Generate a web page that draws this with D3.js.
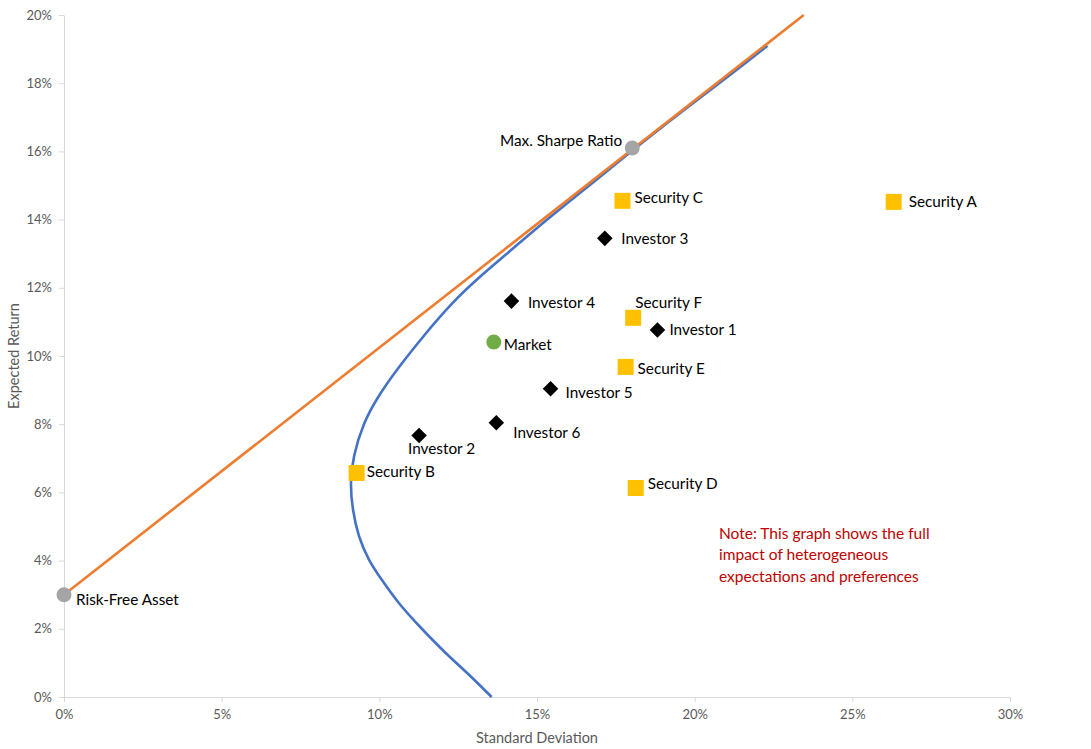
<!DOCTYPE html>
<html>
<head>
<meta charset="utf-8">
<script src="https://cdn.jsdelivr.net/npm/d3@7"></script>
<style>
  html, body { margin: 0; padding: 0; background: #fff; }
  svg { display: block; }
  text { font-family: Lato, "Open Sans", "Liberation Sans", sans-serif; }
</style>
</head>
<body>
<svg id="chart" width="1091" height="749"></svg>
<script>
// ---- Data (percent units) ----
const xTicks = [0, 5, 10, 15, 20, 25, 30];
const yTicks = [0, 2, 4, 6, 8, 10, 12, 14, 16, 18, 20];

// Efficient frontier
const frontierSd  = [13.56, 12.80, 12.10, 11.28, 10.60, 10.07, 9.65, 9.33, 9.15, 9.07, 9.17, 9.49, 9.96, 10.55, 11.39, 12.30, 13.15, 14.10, 14.95, 16.00, 16.79, 17.80, 19.52, 21.30, 22.31];
const frontierRet = [0.00, 0.70, 1.28, 2.06, 2.75, 3.44, 4.02, 4.71, 5.49, 6.28, 7.06, 8.04, 8.82, 9.60, 10.58, 11.56, 12.30, 13.04, 13.72, 14.51, 15.10, 15.86, 17.12, 18.36, 19.10];

// Capital market line endpoints
const cmlSd  = [0, 23.46];
const cmlRet = [3.0, 20.0];

// Points
const pointNames = ["Risk-Free Asset", "Max. Sharpe Ratio", "Market",
  "Security A", "Security B", "Security C", "Security D", "Security E", "Security F",
  "Investor 1", "Investor 2", "Investor 3", "Investor 4", "Investor 5", "Investor 6"];
const pointTypes = ["rf", "sharpe", "market",
  "security", "security", "security", "security", "security", "security",
  "investor", "investor", "investor", "investor", "investor", "investor"];
const pointSd  = [0.00, 18.02, 13.63, 26.31, 9.28, 17.71, 18.13, 17.81, 18.05, 18.82, 11.26, 17.15, 14.19, 15.43, 13.71];
const pointRet = [3.00, 16.10, 10.41, 14.52, 6.57, 14.55, 6.13, 9.68, 11.12, 10.76, 7.67, 13.45, 11.61, 9.04, 8.04];

const noteLines = ["Note: This graph shows the full", "impact of heterogeneous", "expectations and preferences"];

// ---- Layout (label offsets in px, relative to marker centre) ----
const labelDx = [12, -10, 10, 15, 10, 12, 12, 12, 2, 12, -11, 16.5, 16.5, 15, 17];
const labelDy = [10, -2, 8, 5, 4, 2, 1, 7, -10, 5, 19, 6, 6.5, 9, 15];
const labelAnchor = ["start", "end", "start", "start", "start", "start", "start", "start", "start",
  "start", "start", "start", "start", "start", "start"];

const svg = d3.select("#chart");
const x = d3.scaleLinear().domain([0, 30]).range([64, 1010]);
const y = d3.scaleLinear().domain([0, 20]).range([697, 15]);

const axisColor = "#D9D9D9";
const textColor = "#595959";

// Axes
const gx = svg.append("g").attr("transform", `translate(0,${y(0)})`)
  .call(d3.axisBottom(x).tickValues(xTicks).tickFormat(d => d + "%").tickSize(5).tickSizeOuter(0).tickPadding(8));
const gy = svg.append("g").attr("transform", `translate(${x(0)},0)`)
  .call(d3.axisLeft(y).tickValues(yTicks).tickFormat(d => d + "%").tickSize(5).tickSizeOuter(0).tickPadding(7));
[gx, gy].forEach(g => {
  g.select(".domain").attr("stroke", axisColor);
  g.selectAll(".tick line").attr("stroke", axisColor);
  g.selectAll(".tick text").attr("fill", textColor).style("font-size", "13px")
    .style("font-family", "Lato, 'Open Sans', sans-serif");
});

// Axis titles
svg.append("text").attr("x", (x(0) + x(30)) / 2).attr("y", 743)
  .attr("text-anchor", "middle").attr("fill", textColor).style("font-size", "14.5px")
  .text("Standard Deviation");
svg.append("text").attr("transform", `translate(19,${(y(0) + y(20)) / 2}) rotate(-90)`)
  .attr("text-anchor", "middle").attr("fill", textColor).style("font-size", "14.5px")
  .text("Expected Return");

// Efficient frontier
const frontier = frontierSd.map((s, i) => [s, frontierRet[i]]);
svg.append("path").datum(frontier)
  .attr("fill", "none").attr("stroke", "#4472C4").attr("stroke-width", 2.6)
  .attr("stroke-linejoin", "round")
  .attr("d", d3.line().x(d => x(d[0])).y(d => y(d[1])).curve(d3.curveBasis));

// CML
const cml = cmlSd.map((s, i) => [s, cmlRet[i]]);
svg.append("path").datum(cml)
  .attr("fill", "none").attr("stroke", "#ED7D31").attr("stroke-width", 2.6)
  .attr("d", d3.line().x(d => x(d[0])).y(d => y(d[1])));

// Points
const pts = pointNames.map((n, i) => ({ name: n, type: pointTypes[i], sd: pointSd[i], ret: pointRet[i], dx: labelDx[i], dy: labelDy[i], anchor: labelAnchor[i] }));
const g = svg.append("g");
pts.forEach(p => {
  const cx = x(p.sd), cy = y(p.ret);
  if (p.type === "security") {
    g.append("rect").attr("x", cx - 8).attr("y", cy - 8).attr("width", 16).attr("height", 16).attr("fill", "#FFC000");
  } else if (p.type === "investor") {
    g.append("path").attr("d", d3.symbol(d3.symbolSquare, 121)())
      .attr("transform", `translate(${cx},${cy}) rotate(45)`).attr("fill", "#000");
  } else {
    const col = p.type === "market" ? "#70AD47" : "#A5A5A5";
    g.append("circle").attr("cx", cx).attr("cy", cy).attr("r", 7.5).attr("fill", col);
  }
  g.append("text").attr("x", cx + p.dx).attr("y", cy + p.dy)
    .attr("text-anchor", p.anchor).attr("fill", "#000").style("font-size", "15.3px")
    .text(p.name);
});

// Note
svg.append("g").selectAll("text").data(noteLines).join("text")
  .attr("x", 719).attr("y", (d, i) => 539 + i * 21.3)
  .attr("fill", "#C00000").style("font-size", "15.5px")
  .text(d => d);
</script>
</body>
</html>
